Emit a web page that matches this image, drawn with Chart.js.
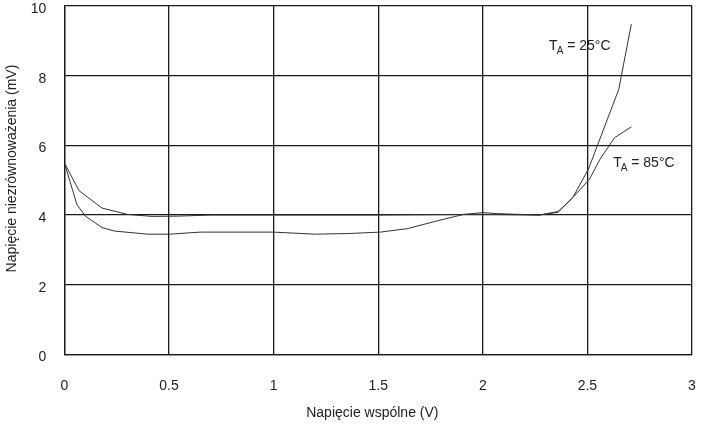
<!DOCTYPE html>
<html>
<head>
<meta charset="utf-8">
<script src="https://cdn.jsdelivr.net/npm/chart.js@4/dist/chart.umd.min.js"></script>
<style>
  html, body { margin: 0; padding: 0; background: #fff; }
  #wrap { width: 704px; height: 428px; }
</style>
</head>
<body>
<div id="wrap"><canvas id="offsetChart"></canvas></div>
<script>
// curve: Vcm (V) vs offset (mV)
const vcm25 = [0, 0.06, 0.10, 0.18, 0.24, 0.40, 0.50, 0.65, 1.0, 1.2, 1.36, 1.51, 1.64, 1.78, 1.91, 2.0, 2.07, 2.27, 2.36, 2.43, 2.505, 2.59, 2.65, 2.71];
const off25 = [5.5, 4.3, 3.97, 3.64, 3.54, 3.45, 3.45, 3.51, 3.51, 3.45, 3.47, 3.51, 3.61, 3.83, 4.02, 4.07, 4.04, 4.0, 4.1, 4.5, 5.32, 6.66, 7.61, 9.48];

const vcm85 = [0, 0.07, 0.18, 0.30, 0.42, 0.55, 0.70, 1.0, 1.5, 2.0, 2.27, 2.36, 2.43, 2.51, 2.56, 2.63, 2.71];
const off85 = [5.5, 4.7, 4.2, 4.02, 3.96, 3.97, 4.0, 4.0, 4.0, 4.02, 4.0, 4.08, 4.5, 5.03, 5.6, 6.22, 6.53];

const curveLabels = [
    { temp: '25', x: 2.317, y: 8.85 },
    { temp: '85', x: 2.623, y: 5.5 }
];

const FONT = '"Liberation Sans", Arial, sans-serif';

function toPoints(xs, ys) {
    return xs.map((x, i) => ({ x: x, y: ys[i] }));
}

// draws "T_A = xx°C" next to each curve
const curveLabelPlugin = {
    id: 'curveLabels',
    afterDatasetsDraw(chart) {
        const ctx = chart.ctx;
        const sx = chart.scales.x, sy = chart.scales.y;
        ctx.save();
        ctx.fillStyle = '#222';
        ctx.textBaseline = 'middle';
        curveLabels.forEach(l => {
            let px = sx.getPixelForValue(l.x);
            const py = sy.getPixelForValue(l.y);
            ctx.font = '14px ' + FONT;
            ctx.fillText('T', px, py);
            px += ctx.measureText('T').width - 1;
            ctx.font = '10px ' + FONT;
            ctx.fillText('A', px, py + 5);
            px += ctx.measureText('A').width;
            ctx.font = '14px ' + FONT;
            ctx.fillText(' = ' + l.temp + '°C', px, py);
        });
        ctx.restore();
    }
};

const ctx = document.getElementById('offsetChart').getContext('2d');
new Chart(ctx, {
    type: 'scatter',
    data: {
        datasets: [{
            label: '25°C',
            data: toPoints(vcm25, off25),
            showLine: true,
            borderColor: '#333',
            borderWidth: 1,
            pointRadius: 0,
            fill: false
        }, {
            label: '85°C',
            data: toPoints(vcm85, off85),
            showLine: true,
            borderColor: '#333',
            borderWidth: 1,
            pointRadius: 0,
            fill: false
        }]
    },
    options: {
        responsive: true,
        maintainAspectRatio: false,
        animation: false,
        layout: { padding: { top: 6, right: 12, left: 4, bottom: 6 } },
        plugins: {
            legend: { display: false },
            tooltip: { enabled: false }
        },
        scales: {
            x: {
                type: 'linear',
                min: 0,
                max: 3,
                afterFit(scale) { scale.paddingLeft = 0; scale.paddingRight = 0; },
                grid: { color: '#1a1a1a', lineWidth: 1.3, drawTicks: false },
                border: { color: '#1a1a1a', width: 1.3 },
                ticks: {
                    stepSize: 0.5,
                    padding: 23,
                    color: '#222',
                    font: { family: FONT, size: 14 },
                    maxRotation: 0,
                    callback: v => String(v)
                },
                title: {
                    display: true,
                    // trailing spaces nudge the centred title a bit left
                    text: 'Napięcie wspólne (V)   ',
                    color: '#222',
                    font: { family: FONT, size: 14 },
                    padding: { top: -12, bottom: 0 }
                }
            },
            y: {
                min: 0,
                max: 10,
                afterFit(scale) { scale.paddingTop = 0; scale.paddingBottom = 0; },
                grid: { color: '#1a1a1a', lineWidth: 1.3, drawTicks: false },
                border: { color: '#1a1a1a', width: 1.3 },
                ticks: {
                    stepSize: 2,
                    padding: 18,
                    labelOffset: 3,
                    color: '#222',
                    font: { family: FONT, size: 14 }
                },
                title: {
                    display: true,
                    // leading spaces push the title up a little
                    text: '      Napięcie niezrównoważenia (mV)',
                    color: '#222',
                    font: { family: FONT, size: 14 },
                    padding: { top: 0, bottom: -8 }
                }
            }
        }
    },
    plugins: [curveLabelPlugin]
});
</script>
</body>
</html>
